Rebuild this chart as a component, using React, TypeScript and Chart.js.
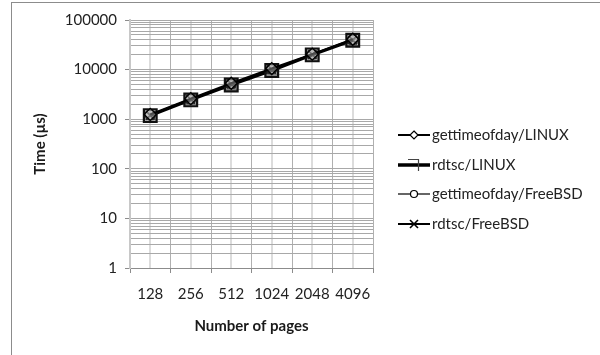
import React, { useEffect, useRef } from "react";
import { Chart, registerables } from "chart.js";

Chart.register(...registerables);

// Page counts on the category axis
const pageCounts = ["128", "256", "512", "1024", "2048", "4096"];

// Measured times in microseconds, one array per timer / OS
const gettimeofdayLinux = [1250, 2600, 5300, 10500, 20500, 41000];
const rdtscLinux = [1180, 2450, 4900, 9600, 19800, 39000];
const gettimeofdayFreeBSD = [1220, 2550, 5200, 10300, 20300, 40000];
const rdtscFreeBSD = [1200, 2500, 5100, 10100, 20000, 39500];

const seriesNames = [
  "gettimeofday/LINUX",
  "rdtsc/LINUX",
  "gettimeofday/FreeBSD",
  "rdtsc/FreeBSD",
];

// Labelled decades on the log axis
const decadeTicks = [1, 10, 100, 1000, 10000, 100000];
const minorSteps = [1, 2, 3, 4, 5, 6, 7, 8, 9];

const FONT = "Lato, 'Open Sans', sans-serif";

const isDecade = (v: number) => decadeTicks.includes(v);

// Light guide lines through each category centre, plus the outer frame
const backdropPlugin = {
  id: "backdrop",
  beforeDraw(chart: any) {
    const { ctx, chartArea, scales } = chart;
    ctx.save();
    ctx.fillStyle = "#ffffff";
    ctx.fillRect(0, 0, chart.width, chart.height);
    ctx.strokeStyle = "#8c8c8c";
    ctx.lineWidth = 1;
    ctx.strokeRect(11.5, 2.5, chart.width, chart.height);
    ctx.strokeStyle = "#dcdcdc";
    ctx.lineWidth = 2;
    pageCounts.forEach((_, i) => {
      const x = Math.round(scales.x.getPixelForValue(i));
      ctx.beginPath();
      ctx.moveTo(x, chartArea.top);
      ctx.lineTo(x, chartArea.bottom);
      ctx.stroke();
    });
    ctx.restore();
  },
};

type LegendStyle = { lineWidth: number; marker: string };
const legendStyles: LegendStyle[] = [
  { lineWidth: 2, marker: "diamond" },
  { lineWidth: 3.5, marker: "corner" },
  { lineWidth: 1.2, marker: "circle" },
  { lineWidth: 2, marker: "cross" },
];

// Line-and-marker legend to the right of the plot
const sideLegendPlugin = {
  id: "sideLegend",
  afterDraw(chart: any) {
    const { ctx, chartArea } = chart;
    const x0 = chartArea.right + 25;
    const x1 = chartArea.right + 57;
    const xm = (x0 + x1) / 2;
    ctx.save();
    seriesNames.forEach((name, i) => {
      const y = Math.round(chartArea.top + 115 + i * 29.5);
      const st = legendStyles[i];
      ctx.strokeStyle = "#000";
      ctx.lineWidth = st.lineWidth;
      ctx.beginPath();
      ctx.moveTo(x0, y);
      ctx.lineTo(x1, y);
      ctx.stroke();
      ctx.lineWidth = 1.2;
      if (st.marker === "diamond") {
        ctx.fillStyle = "#fff";
        ctx.beginPath();
        ctx.moveTo(xm, y - 4);
        ctx.lineTo(xm + 4, y);
        ctx.lineTo(xm, y + 4);
        ctx.lineTo(xm - 4, y);
        ctx.closePath();
        ctx.fill();
        ctx.stroke();
      } else if (st.marker === "corner") {
        ctx.strokeStyle = "#444";
        ctx.beginPath();
        ctx.moveTo(xm - 6, y - 5.5);
        ctx.lineTo(xm + 4.5, y - 5.5);
        ctx.lineTo(xm + 4.5, y + 6);
        ctx.stroke();
      } else if (st.marker === "circle") {
        ctx.fillStyle = "#fff";
        ctx.beginPath();
        ctx.arc(xm, y, 3.5, 0, Math.PI * 2);
        ctx.fill();
        ctx.stroke();
      } else {
        ctx.lineWidth = 1.6;
        ctx.beginPath();
        ctx.moveTo(xm - 4, y - 4);
        ctx.lineTo(xm + 4, y + 4);
        ctx.moveTo(xm + 4, y - 4);
        ctx.lineTo(xm - 4, y + 4);
        ctx.stroke();
      }
      ctx.fillStyle = "#222";
      ctx.font = `15px ${FONT}`;
      ctx.textAlign = "left";
      ctx.textBaseline = "middle";
      ctx.fillText(name, x1 + 2, y);
    });
    ctx.restore();
  },
};

export default function App() {
  const canvasRef = useRef<HTMLCanvasElement | null>(null);

  useEffect(() => {
    const canvas = canvasRef.current;
    if (!canvas) return;

    const chart = new Chart(canvas, {
      type: "line",
      data: {
        labels: pageCounts,
        datasets: [
          {
            label: seriesNames[0],
            data: gettimeofdayLinux,
            borderColor: "#000",
            borderWidth: 2,
            pointStyle: "rectRot",
            pointRadius: 6,
            pointBorderColor: "#000",
            pointBackgroundColor: "rgba(255,255,255,0.3)",
            pointBorderWidth: 1.3,
          },
          {
            label: seriesNames[1],
            data: rdtscLinux,
            borderColor: "#000",
            borderWidth: 3,
            pointStyle: "rect",
            pointRadius: 9,
            pointBorderColor: "#111",
            pointBackgroundColor: "rgba(70,70,70,0.45)",
            pointBorderWidth: 2.2,
          },
          {
            label: seriesNames[2],
            data: gettimeofdayFreeBSD,
            borderColor: "#222",
            borderWidth: 1.2,
            pointStyle: "circle",
            pointRadius: 5,
            pointBorderColor: "#000",
            pointBackgroundColor: "rgba(255,255,255,0.2)",
            pointBorderWidth: 1.3,
          },
          {
            label: seriesNames[3],
            data: rdtscFreeBSD,
            borderColor: "#000",
            borderWidth: 2,
            pointStyle: "crossRot",
            pointRadius: 6,
            pointBorderColor: "#000",
            pointBorderWidth: 1.8,
          },
        ],
      },
      options: {
        animation: false,
        responsive: false,
        devicePixelRatio: 1,
        events: [],
        layout: { padding: { left: 12, top: 20, right: 227, bottom: 0 } },
        plugins: {
          legend: { display: false },
          tooltip: { enabled: false },
        },
        elements: { line: { tension: 0 } },
        scales: {
          x: {
            type: "category",
            offset: true,
            grid: {
              offset: true,
              color: "#b0b0b0",
              lineWidth: 1,
              tickLength: 5,
              tickColor: "#8c8c8c",
            },
            border: { color: "#8c8c8c", width: 1 },
            ticks: {
              color: "#222",
              font: { family: FONT, size: 15 },
              padding: 12,
              maxRotation: 0,
              autoSkip: false,
            },
            title: {
              display: true,
              text: "Number of pages",
              color: "#1a1a1a",
              font: { family: FONT, size: 15, weight: "bold" },
              padding: { top: 0, bottom: 20 },
            },
            afterFit(scale: any) {
              scale.height = 87;
            },
          },
          y: {
            type: "logarithmic",
            min: 1,
            max: 100000,
            afterBuildTicks(scale: any) {
              const values: number[] = [];
              decadeTicks.slice(0, -1).forEach((d) =>
                minorSteps.forEach((m) => values.push(d * m))
              );
              values.push(100000);
              scale.ticks = values.map((v) => ({ value: v, major: isDecade(v) }));
            },
            grid: {
              color: "#a8a8a8",
              lineWidth: 1,
              tickLength: 5,
              tickColor: (ctx: any) =>
                ctx.tick && isDecade(ctx.tick.value) ? "#8c8c8c" : "rgba(0,0,0,0)",
            },
            border: { color: "#c8c8c8", width: 2 },
            ticks: {
              autoSkip: false,
              color: "#222",
              font: { family: FONT, size: 15 },
              padding: 8,
              callback: (value: any) => (isDecade(Number(value)) ? String(value) : ""),
            },
            title: {
              display: true,
              text: "Time (µs)",
              color: "#1a1a1a",
              font: { family: FONT, size: 15, weight: "bold" },
              padding: { top: 19, bottom: 0 },
            },
            afterFit(scale: any) {
              scale.width = 118;
            },
          },
        },
      },
      plugins: [backdropPlugin, sideLegendPlugin],
    });

    return () => chart.destroy();
  }, []);

  return (
    <div style={{ position: "fixed", left: 0, top: 0, width: 600, height: 355, background: "#fff" }}>
      <canvas ref={canvasRef} width={600} height={355} style={{ display: "block" }} />
    </div>
  );
}
